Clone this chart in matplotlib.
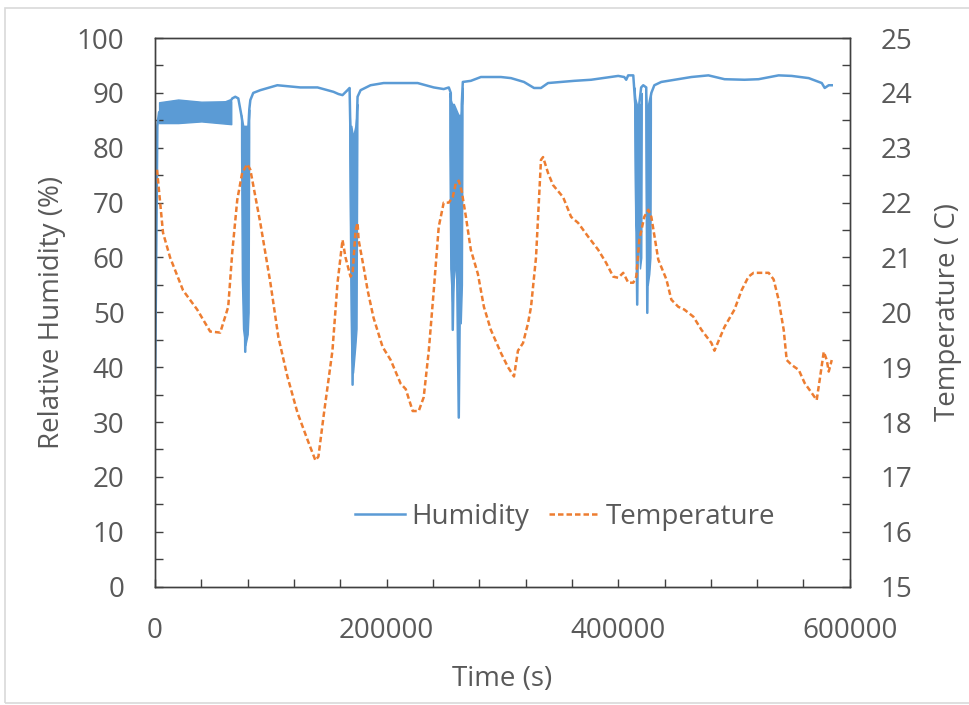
import numpy as np
import matplotlib
matplotlib.use("Agg")
import matplotlib.pyplot as plt
from matplotlib.patches import Rectangle
from matplotlib.ticker import MultipleLocator

plt.rcParams['font.family'] = ['Open Sans', 'DejaVu Sans']

# humidity main trace (time in s, RH in %)
hum_t = [0, 1000, 2000, 3500, 20000, 40000, 65800, 66700, 69300, 71900, 74500,
         76200, 77900, 79700, 81400, 82300, 84800, 90900, 105600, 125500, 140300,
         154100, 158400, 161900, 166200, 168000, 168800, 170600, 172300, 174900,
         177500, 186100, 197400, 226800, 240700, 249300, 253700, 255400, 257100,
         259700, 262300, 264000, 264900, 265800, 272700, 281400, 298700, 307400,
         318600, 327300, 333300, 339400, 361900, 376600, 400000, 405200, 406900,
         408600, 413000, 414700, 416400, 418200, 419800, 421600, 424200, 425100,
         426800, 428600, 431200, 437200, 463200, 477900, 491800, 509100, 521200,
         538500, 549800, 564500, 575800, 578300, 581800, 584400]
hum_v = [36, 60, 84, 86.5, 86.5, 86.5, 88.7, 89, 89.3, 89, 86,
         83.8, 42.8, 80, 87, 88.7, 90, 90.5, 91.4, 91, 91,
         90.2, 89.8, 89.6, 90.5, 90.9, 82, 36.8, 70, 89.3,
         90.5, 91.4, 91.8, 91.8, 91, 90.7, 91, 90, 46.8,
         80, 30.8, 70, 88, 92, 92.2, 92.9, 92.9, 92.7,
         92, 90.9, 90.9, 91.8, 92.2, 92.4, 93.1, 92.9, 92.4,
         93.2, 93.2, 88, 51.4, 88, 91, 91.4, 91, 49.9,
         88, 90, 91.4, 92, 92.9, 93.2, 92.5, 92.4, 92.5,
         93.2, 93.1, 92.7, 91.8, 90.9, 91.4, 91.4]

# dense oscillation bands (time, upper, lower envelope)
band_t = [[3500, 20000, 40000, 65800],
          [74300, 75000, 76000, 78000, 80000, 80800, 81300],
          [167800, 168500, 169500, 171000, 173000, 174000, 174700],
          [254200, 255000, 256500, 258000, 260000, 262000, 264000, 265000, 265500],
          [414000, 414700, 416000, 417500, 418800, 419900, 420300],
          [423800, 424500, 425500, 426800, 427800, 428200]]
band_hi = [[88.3, 88.8, 88.4, 88.5],
           [86, 84, 84, 84, 84, 84, 87],
           [88, 84, 84, 82, 84, 86, 88],
           [90, 89, 88, 88, 87, 86, 86, 88, 91],
           [91, 89, 88, 87, 88, 88, 90],
           [90, 88, 87, 87, 88, 90]]
band_lo = [[84.5, 84.5, 84.8, 84.3],
           [80, 56, 47, 44, 46, 50, 82],
           [80, 60, 42, 39, 44, 47, 82],
           [80, 58, 52, 56, 60, 55, 48, 55, 85],
           [85, 66, 64, 65, 58, 60, 85],
           [82, 56, 55, 57, 60, 85]]

# temperature trace (time in s, deg C)
temp_t = [1700, 6900, 13000, 24200, 36400, 47600, 56300, 63200, 66700, 71000,
          75300, 79700, 82300, 90900, 99600, 106500, 114300, 123000, 131600,
          138500, 141100, 145500, 153200, 157600, 161900, 164500, 168800, 170600,
          173200, 174900, 175800, 180100, 183600, 188700, 196500, 203500, 212100,
          216500, 222500, 227700, 232000, 236400, 240700, 245000, 249300, 253700,
          257100, 259700, 262300, 264900, 268400, 272700, 278800, 284000, 290000,
          298700, 304800, 310000, 313400, 317800, 322100, 324700, 329000, 333300,
          335100, 339400, 343700, 352400, 359300, 365400, 374000, 382700, 389600,
          395700, 400000, 404300, 408700, 413000, 415600, 418200, 422500, 426000,
          428600, 434600, 441600, 445900, 451900, 457100, 464900, 471900, 480500,
          483100, 491700, 500400, 506500, 512500, 516900, 529900, 534200, 538500,
          542900, 545500, 549800, 555900, 561000, 567100, 571400, 574000, 577500,
          580100, 581800, 584400]
temp_v = [22.6, 21.45, 21.0, 20.4, 20.05, 19.65, 19.63, 20.1, 21.1, 22.05,
          22.55, 22.7, 22.6, 21.63, 20.54, 19.55, 18.83, 18.17, 17.68,
          17.3, 17.37, 18.1, 19.3, 20.54, 21.32, 21.0, 20.65, 20.7,
          21.5, 21.63, 21.32, 20.83, 20.4, 19.9, 19.37, 19.13, 18.7,
          18.6, 18.2, 18.2, 18.45, 19.3, 20.4, 21.56, 22.0, 22.0,
          22.1, 22.35, 22.4, 22.2, 21.75, 21.14, 20.7, 20.1, 19.68,
          19.26, 19.0, 18.83, 19.3, 19.44, 19.8, 20.1, 21.0, 22.78,
          22.83, 22.54, 22.32, 22.1, 21.74, 21.63, 21.38, 21.14, 20.9,
          20.65, 20.63, 20.72, 20.54, 20.54, 20.65, 21.32, 21.74, 21.87,
          21.74, 20.96, 20.6, 20.23, 20.1, 20.05, 19.92, 19.68, 19.44,
          19.3, 19.73, 20.05, 20.4, 20.65, 20.72, 20.72, 20.6, 20.23,
          19.68, 19.13, 19.04, 18.95, 18.71, 18.53, 18.4, 18.77, 19.28,
          19.13, 18.92, 19.13]

blue = '#5B9BD5'
orange = '#ED7D31'
grey = '#595959'

fig = plt.figure(figsize=(9.69, 7.05), dpi=100)
fig.patches.append(Rectangle((0.005, 0.003), 1.2, 0.986, transform=fig.transFigure,
                             fill=False, edgecolor='#d9d9d9', linewidth=1.2))
ax = fig.add_axes([0.16, 0.168, 0.717, 0.778])
ax2 = ax.twinx()

for bt, bh, bl in zip(band_t, band_hi, band_lo):
    ax.fill_between(bt, bl, bh, facecolor=blue, edgecolor=blue, linewidth=1.0)
hline, = ax.plot(hum_t, hum_v, color=blue, lw=1.8, label='Humidity')
tline, = ax2.plot(temp_t, temp_v, color=orange, lw=1.8, dashes=(2.2, 1.2),
                  label='Temperature')

ax.set_xlim(0, 600000)
ax.set_ylim(0, 100)
ax2.set_ylim(15, 25)
ax.xaxis.set_major_locator(MultipleLocator(200000))
ax.xaxis.set_minor_locator(MultipleLocator(40000))
ax.yaxis.set_major_locator(MultipleLocator(10))
ax.yaxis.set_minor_locator(MultipleLocator(5))
ax2.yaxis.set_major_locator(MultipleLocator(1))
ax2.yaxis.set_minor_locator(MultipleLocator(0.5))

for a in (ax, ax2):
    for s in a.spines.values():
        s.set_color('#404040')
        s.set_linewidth(1.0)
    a.tick_params(which='both', direction='in', length=6, width=1.0,
                  color='#404040', labelsize=20, labelcolor=grey, pad=22)
ax.tick_params(which='both', top=False, right=False)
ax2.tick_params(which='both', left=False, right=True)

ax.set_xlabel('Time (s)', fontsize=20, color=grey, labelpad=14)
ax.set_ylabel('Relative Humidity (%)', fontsize=20, color=grey, labelpad=8)
ax2.set_ylabel('Temperature ( C)', fontsize=20, color=grey, labelpad=16)

ax2.legend(handles=[hline, tline], loc='center', bbox_to_anchor=(0.59, 0.1275),
           ncol=2, frameon=False, fontsize=20, labelcolor=grey,
           handlelength=1.8, handletextpad=0.25, columnspacing=0.7)

fig.savefig('out.png', dpi=100)
